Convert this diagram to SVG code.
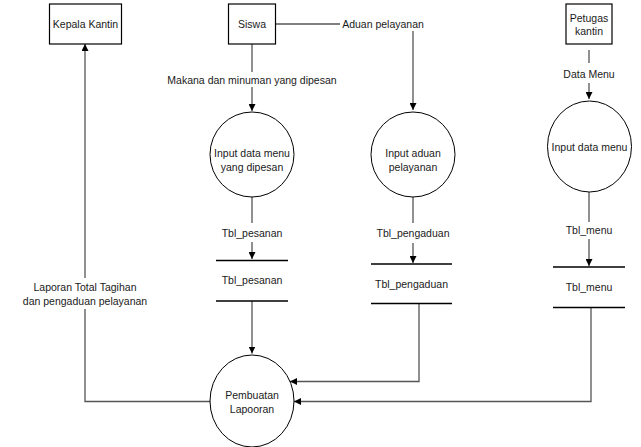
<svg xmlns="http://www.w3.org/2000/svg" width="641" height="447" viewBox="0 0 641 447">
<style>
text{font-family:"Liberation Sans",Arial,sans-serif;font-size:10.5px;fill:#1a1a1a;text-anchor:middle;dominant-baseline:central}
.box{fill:#fff;stroke:#000;stroke-width:1.2}
.proc{fill:#fff;stroke:#000;stroke-width:1}
.store{stroke:#000;stroke-width:1.3;fill:none}
.c{fill:none;stroke:#555;stroke-width:1.3}
</style>
<defs>
<marker id="ah" viewBox="0 0 10 10" refX="10" refY="5" markerWidth="7" markerHeight="7" markerUnits="userSpaceOnUse" orient="auto"><path d="M0,0 L10,5 L0,10 z" fill="#000"/></marker>
</defs>
<rect width="641" height="447" fill="#fff"/>
<g id="connectors">
<path class="c" d="M252,44 V72"/>
<path class="c" d="M252,87 V111" marker-end="url(#ah)"/>
<path class="c" d="M275.5,24 H340"/>
<path class="c" d="M413,31 V110" marker-end="url(#ah)"/>
<path class="c" d="M589,50 V63"/>
<path class="c" d="M589,83 V99" marker-end="url(#ah)"/>
<path class="c" d="M252,197 V223"/>
<path class="c" d="M252,242 V259" marker-end="url(#ah)"/>
<path class="c" d="M413,197 V223"/>
<path class="c" d="M413,243 V263" marker-end="url(#ah)"/>
<path class="c" d="M589,192 V222"/>
<path class="c" d="M589,239 V266" marker-end="url(#ah)"/>
<path class="c" d="M252,301 V353.5" marker-end="url(#ah)"/>
<path class="c" d="M419,303 V381.5 H290" marker-end="url(#ah)"/>
<path class="c" d="M591,307.5 V401.5 H294" marker-end="url(#ah)"/>
<path class="c" d="M210,401.5 H85 V309"/>
<path class="c" d="M85,278 V44" marker-end="url(#ah)"/>
<text x="252" y="80">Makana dan minuman yang dipesan</text>
<text x="383" y="24">Aduan pelayanan</text>
<text x="589" y="74">Data Menu</text>
<text x="252" y="233">Tbl_pesanan</text>
<text x="413" y="233">Tbl_pengaduan</text>
<text x="589" y="230">Tbl_menu</text>
<text x="85" y="287">Laporan Total Tagihan</text>
<text x="85" y="301">dan pengaduan pelayanan</text>
</g>
<g id="kepala-kantin"><rect class="box" x="49.5" y="4" width="72" height="40"/><text x="85.5" y="24">Kepala Kantin</text></g>
<g id="siswa"><rect class="box" x="228.5" y="4" width="47" height="40"/><text x="252" y="24">Siswa</text></g>
<g id="petugas-kantin"><rect class="box" x="566" y="4" width="46" height="40"/><text x="589" y="18">Petugas</text><text x="589" y="31">kantin</text></g>
<g id="p-input-menu-dipesan"><ellipse class="proc" cx="252" cy="154.5" rx="42" ry="42.5"/><text x="252" y="152.5">Input data menu</text><text x="252" y="166.5">yang dipesan</text></g>
<g id="p-input-aduan"><ellipse class="proc" cx="413" cy="154.5" rx="42" ry="42.5"/><text x="413" y="152.5">Input aduan</text><text x="413" y="166.5">pelayanan</text></g>
<g id="p-input-menu"><ellipse class="proc" cx="589.5" cy="146.5" rx="42" ry="45.5"/><text x="589.5" y="146.5">Input data menu</text></g>
<g id="p-pembuatan"><ellipse class="proc" cx="252" cy="401" rx="42" ry="46"/><text x="252" y="395">Pembuatan</text><text x="252" y="409">Lapooran</text></g>
<g id="ds-pesanan"><path class="store" d="M216,260.5 H288 M216,301 H288"/><text x="252" y="280">Tbl_pesanan</text></g>
<g id="ds-pengaduan"><path class="store" d="M371,264 H452 M371,303.5 H452"/><text x="411.5" y="284">Tbl_pengaduan</text></g>
<g id="ds-menu"><path class="store" d="M553,267 H625 M553,307.5 H625"/><text x="589" y="287">Tbl_menu</text></g>
</svg>
